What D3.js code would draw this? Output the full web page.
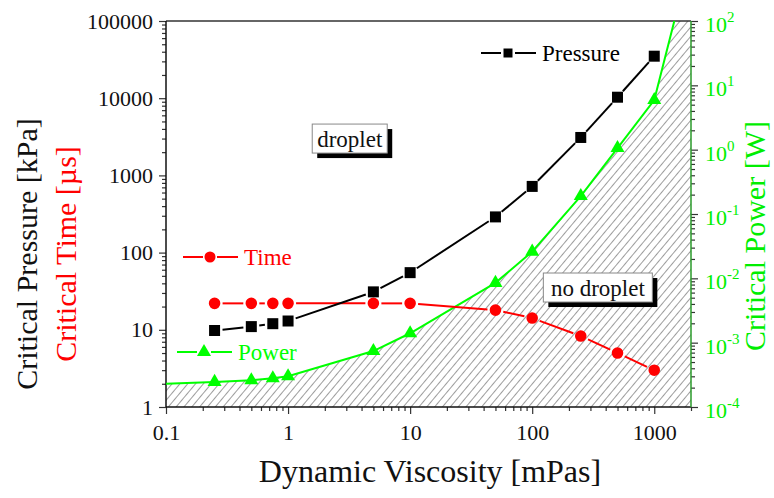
<!DOCTYPE html>
<html>
<head>
<meta charset="utf-8">
<script src="https://cdn.jsdelivr.net/npm/d3@7"></script>
<style>
  body { margin: 0; background: #fff; }
  svg { display: block; font-family: "Liberation Serif", "Times New Roman", serif; }
</style>
</head>
<body>
<svg id="chart" width="774" height="498"></svg>
<script>
// values
var viscosity = [0.25, 0.5, 0.75, 1, 5, 10, 50, 100, 250, 500, 1000];
var pressure  = [9.8, 11, 12, 13, 31, 55, 290, 720, 3100, 10300, 35000];   // kPa
var time      = [22, 22, 22, 22, 22, 22, 18, 14.2, 8.3, 5.0, 3.0];           // µs
var power     = [2.45e-4, 2.6e-4, 2.8e-4, 3.0e-4, 7.4e-4, 1.4e-3, 8.5e-3, 0.026, 0.19, 1.06, 5.9]; // W
// where the green boundary leaves the frame on the left and at the top
var boundaryStart = [0.1, 2.3e-4];
var boundaryEnd   = [1460, 100];

var xTicks      = [0.1, 1, 10, 100, 1000];
var leftTicks   = [1, 10, 100, 1000, 10000, 100000];
var rightExps   = [-4, -3, -2, -1, 0, 1, 2];

(function() {
    var svg = d3.select("#chart");
    var left = 166, right = 691, top = 21, bottom = 407;

    var x = d3.scaleLog().domain([0.1, 2000]).range([left, right]);
    var yL = d3.scaleLog().domain([1, 1e5]).range([bottom, top]);
    var yR = d3.scaleLog().domain([1e-4, 1e2]).range([bottom, top]);

    // minor ticks 2..9 in every decade of a log domain
    function minors(lo, hi) {
        var out = [];
        for (var d = lo; d < hi; d *= 10)
            for (var k = 2; k <= 9; k++) if (d * k <= hi) out.push(d * k);
        return out;
    }

    // hatch pattern for the "no droplet" region
    var defs = svg.append("defs");
    defs.append("pattern")
        .attr("id", "hatch")
        .attr("patternUnits", "userSpaceOnUse")
        .attr("width", 6).attr("height", 6)
        .attr("patternTransform", "rotate(40)")
      .append("line")
        .attr("x1", 0).attr("y1", 0).attr("x2", 0).attr("y2", 6)
        .attr("stroke", "#4a4a4a").attr("stroke-width", 1.1);

    var bnd = [boundaryStart].concat(viscosity.map((v, i) => [v, power[i]])).concat([boundaryEnd]);
    var region = bnd.concat([[2000, 100], [2000, 1e-4], [0.1, 1e-4]]);
    svg.append("path")
        .attr("d", d3.line().x(d => x(d[0])).y(d => yR(d[1]))(region) + "Z")
        .attr("fill", "url(#hatch)");

    // axes
    var ax = svg.append("g");
    ax.append("g").attr("transform", `translate(${left},0)`)
        .call(d3.axisLeft(yL).tickValues(leftTicks).tickFormat(d3.format("d")).tickSize(7).tickPadding(6))
        .call(g => g.select(".domain").remove());
    ax.append("g").attr("transform", `translate(${left},0)`)
        .call(d3.axisLeft(yL).tickValues(minors(1, 1e5)).tickFormat("").tickSize(4))
        .call(g => g.select(".domain").remove());
    ax.append("g").attr("transform", `translate(0,${bottom})`)
        .call(d3.axisBottom(x).tickValues(xTicks).tickFormat(d => d).tickSize(7).tickPadding(10))
        .call(g => g.select(".domain").remove());
    ax.append("g").attr("transform", `translate(0,${bottom})`)
        .call(d3.axisBottom(x).tickValues(minors(0.1, 2000)).tickFormat("").tickSize(4))
        .call(g => g.select(".domain").remove());
    ax.append("g").attr("transform", `translate(${right},0)`)
        .call(d3.axisRight(yR).tickValues(rightExps.map(e => Math.pow(10, e))).tickFormat("").tickSize(7))
        .call(g => g.select(".domain").remove());
    ax.append("g").attr("transform", `translate(${right},0)`)
        .call(d3.axisRight(yR).tickValues(minors(1e-4, 1e2)).tickFormat("").tickSize(4))
        .call(g => g.select(".domain").remove());
    ax.selectAll(":scope > g").attr("font-size", 22).attr("font-family", "Liberation Serif");
    ax.selectAll("text").attr("fill", "#111");
    ax.selectAll(".tick line").attr("stroke", "#333").attr("stroke-width", 1.2);

    // right tick labels 10^n
    var rl = ax.append("g").attr("fill", "#00ee00").attr("font-size", 22);
    rightExps.forEach(function(e) {
        var t = rl.append("text").attr("x", right + 14).attr("y", yR(Math.pow(10, e)) + 11);
        t.append("tspan").text("10");
        t.append("tspan").attr("dy", -10).attr("font-size", 15).text(e < 0 ? "-" + (-e) : e);
    });

    // frame
    svg.append("line").attr("x1", left).attr("x2", right).attr("y1", top).attr("y2", top)
        .attr("stroke", "#333").attr("stroke-width", 1.5);
    svg.append("line").attr("x1", left).attr("x2", right).attr("y1", bottom).attr("y2", bottom)
        .attr("stroke", "#111").attr("stroke-width", 1.5);
    svg.append("line").attr("x1", left).attr("x2", left).attr("y1", top).attr("y2", bottom)
        .attr("stroke", "#111").attr("stroke-width", 1.5);
    svg.append("line").attr("x1", right).attr("x2", right).attr("y1", top).attr("y2", bottom)
        .attr("stroke", "#2a9a2a").attr("stroke-width", 1.5);

    // series lines, with little gaps at the symbols like the original
    function gappedLine(pts, color, gap) {
        var g = svg.append("g").attr("stroke", color).attr("stroke-width", 2);
        for (var i = 0; i < pts.length - 1; i++) {
            var a = pts[i], b = pts[i + 1];
            var dx = b[0] - a[0], dy = b[1] - a[1], len = Math.sqrt(dx * dx + dy * dy);
            if (len <= 2 * gap) continue;
            var ux = dx / len, uy = dy / len;
            g.append("line")
                .attr("x1", a[0] + ux * gap).attr("y1", a[1] + uy * gap)
                .attr("x2", b[0] - ux * gap).attr("y2", b[1] - uy * gap);
        }
    }

    var pPts = viscosity.map((v, i) => [x(v), yL(pressure[i])]);
    var tPts = viscosity.map((v, i) => [x(v), yL(time[i])]);
    var wPts = bnd.map(d => [x(d[0]), yR(d[1])]);

    svg.append("path")
        .attr("d", d3.line()(wPts))
        .attr("fill", "none").attr("stroke", "#00ff00").attr("stroke-width", 2);
    gappedLine(tPts, "#ff0000", 8);
    gappedLine(pPts, "#000", 8);

    var sq = d3.symbol().type(d3.symbolSquare).size(121);
    var ci = d3.symbol().type(d3.symbolCircle).size(105);
    var tr = d3.symbol().type(d3.symbolTriangle).size(85);

    svg.append("g").selectAll("path").data(viscosity).join("path")
        .attr("transform", (d, i) => `translate(${x(d)},${yR(power[i])})`)
        .attr("d", tr).attr("fill", "#00ff00");
    svg.append("g").selectAll("path").data(viscosity).join("path")
        .attr("transform", (d, i) => `translate(${x(d)},${yL(time[i])})`)
        .attr("d", ci).attr("fill", "#ff0000");
    svg.append("g").selectAll("path").data(viscosity).join("path")
        .attr("transform", (d, i) => `translate(${x(d)},${yL(pressure[i])})`)
        .attr("d", sq).attr("fill", "#000");

    // legends
    function legend(x0, y0, color, sym, label) {
        var g = svg.append("g");
        g.append("line").attr("x1", x0).attr("x2", x0 + 20).attr("y1", y0).attr("y2", y0)
            .attr("stroke", color).attr("stroke-width", 2);
        g.append("line").attr("x1", x0 + 34).attr("x2", x0 + 55).attr("y1", y0).attr("y2", y0)
            .attr("stroke", color).attr("stroke-width", 2);
        g.append("path").attr("transform", `translate(${x0 + 27},${y0})`).attr("d", sym).attr("fill", color);
        g.append("text").attr("x", x0 + 61).attr("y", y0 + 8).attr("font-size", 23)
            .attr("fill", color).text(label);
    }
    legend(481, 53, "#000", d3.symbol().type(d3.symbolSquare).size(81), "Pressure");
    legend(183, 257, "#ff0000", d3.symbol().type(d3.symbolCircle).size(95), "Time");
    legend(177, 352, "#00ff00", d3.symbol().type(d3.symbolTriangle).size(85), "Power");

    // region labels with drop shadow
    function tag(vx, vy, w, label) {
        var cx = x(vx), cy = yL(vy), h = 29;
        var g = svg.append("g");
        g.append("rect").attr("x", cx - w / 2 + 5).attr("y", cy - h / 2 + 5).attr("width", w).attr("height", h)
            .attr("fill", "#000");
        g.append("rect").attr("x", cx - w / 2).attr("y", cy - h / 2).attr("width", w).attr("height", h)
            .attr("fill", "#fff").attr("stroke", "#888").attr("stroke-width", 1);
        g.append("text").attr("x", cx).attr("y", cy + 8).attr("text-anchor", "middle")
            .attr("font-size", 23).attr("fill", "#111").text(label);
    }
    tag(3.2, 3000, 75, "droplet");
    tag(345, 35.3, 109, "no droplet");

    // axis titles
    svg.append("text").attr("transform", "translate(37,254) rotate(-90)")
        .attr("text-anchor", "middle").attr("font-size", 30).attr("fill", "#111")
        .text("Critical Pressure [kPa]");
    svg.append("text").attr("transform", "translate(76,254) rotate(-90)")
        .attr("text-anchor", "middle").attr("font-size", 30).attr("fill", "#ff0000")
        .text("Critical Time [µs]");
    svg.append("text").attr("transform", "translate(765,236) rotate(-90)")
        .attr("text-anchor", "middle").attr("font-size", 30).attr("fill", "#00ee00")
        .text("Critical Power [W]");
    svg.append("text").attr("x", 430).attr("y", 482)
        .attr("text-anchor", "middle").attr("font-size", 32).attr("fill", "#111")
        .text("Dynamic Viscosity [mPas]");
})();
</script>
</body>
</html>
